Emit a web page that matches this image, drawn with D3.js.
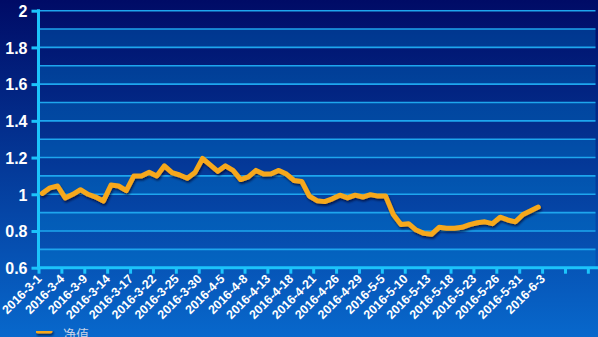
<!DOCTYPE html>
<html>
<head>
<meta charset="utf-8">
<script src="https://cdn.jsdelivr.net/npm/d3@7"></script>
<style>
  html, body { margin: 0; padding: 0; background: #0a3a9a; }
  svg { display: block; }
</style>
</head>
<body>
<svg id="chart" width="598" height="337"></svg>
<script>
// Trading days shown on the category axis
const categories = [
  "2016-3-1","2016-3-2","2016-3-3","2016-3-4","2016-3-7","2016-3-8","2016-3-9","2016-3-10","2016-3-11",
  "2016-3-14","2016-3-15","2016-3-16","2016-3-17","2016-3-18","2016-3-21","2016-3-22","2016-3-23","2016-3-24",
  "2016-3-25","2016-3-28","2016-3-29","2016-3-30","2016-3-31","2016-4-1","2016-4-5","2016-4-6","2016-4-7",
  "2016-4-8","2016-4-11","2016-4-12","2016-4-13","2016-4-14","2016-4-15","2016-4-18","2016-4-19","2016-4-20",
  "2016-4-21","2016-4-22","2016-4-25","2016-4-26","2016-4-27","2016-4-28","2016-4-29","2016-5-3","2016-5-4",
  "2016-5-5","2016-5-6","2016-5-9","2016-5-10","2016-5-11","2016-5-12","2016-5-13","2016-5-16","2016-5-17",
  "2016-5-18","2016-5-19","2016-5-20","2016-5-23","2016-5-24","2016-5-25","2016-5-26","2016-5-27","2016-5-30",
  "2016-5-31","2016-6-1","2016-6-2","2016-6-3"
];

// 净值 (net asset value) per trading day
const navValues = [
  1.005, 1.035, 1.045, 0.980, 1.000, 1.025, 1.000, 0.985, 0.963,
  1.050, 1.045, 1.020, 1.100, 1.100, 1.120, 1.100, 1.155, 1.118,
  1.105, 1.087, 1.118, 1.195, 1.160, 1.125, 1.155, 1.130, 1.080,
  1.095, 1.130, 1.110, 1.112, 1.130, 1.110, 1.075, 1.070, 0.990,
  0.965, 0.960, 0.975, 0.995, 0.980, 0.995, 0.985, 0.998, 0.990,
  0.990, 0.890, 0.835, 0.840, 0.805, 0.787, 0.782, 0.820, 0.815,
  0.815, 0.820, 0.835, 0.845, 0.850, 0.840, 0.875, 0.860, 0.850,
  0.890, 0.910, 0.930
];

const seriesName = "净值";
const yTicks = [0.6, 0.8, 1, 1.2, 1.4, 1.6, 1.8, 2];
const yGrid = [0.6, 0.7, 0.8, 0.9, 1.0, 1.1, 1.2, 1.3, 1.4, 1.5, 1.6, 1.7, 1.8, 1.9, 2.0];
const slotCount = 73;   // category slots on the x axis
const tickEvery = 3;    // a tick and label every 3 trading days

const W = 598, H = 337;
const plot = { left: 38.5, right: 595.5, top: 10.7, bottom: 267.7 };

const svg = d3.select("#chart");
const defs = svg.append("defs");

const bg = defs.append("linearGradient")
  .attr("id", "bg").attr("x1", 0).attr("y1", 0).attr("x2", 0).attr("y2", 1);
bg.append("stop").attr("offset", "0%").attr("stop-color", "#000b66");
bg.append("stop").attr("offset", "100%").attr("stop-color", "#0868cc");

// soft shadow under the series line (user-space region so flat shapes keep it)
const shadow = defs.append("filter").attr("id", "shadow")
  .attr("filterUnits", "userSpaceOnUse")
  .attr("x", 0).attr("y", 0).attr("width", W).attr("height", H);
shadow.append("feDropShadow")
  .attr("dx", 1).attr("dy", 2).attr("stdDeviation", 1.3)
  .attr("flood-color", "#000628").attr("flood-opacity", 0.65);

svg.append("rect").attr("width", W).attr("height", H).attr("fill", "url(#bg)");

const x = d3.scaleLinear().domain([0, slotCount]).range([plot.left, plot.right]);
const y = d3.scaleLinear().domain([0.6, 2]).range([plot.bottom, plot.top]);

// alternating bands, one per 0.1 step
const bandStarts = d3.range(0, 7).map(k => +(0.6 + k * 0.2).toFixed(1));
svg.append("g").selectAll("rect").data(bandStarts).join("rect")
  .attr("x", plot.left).attr("width", plot.right - plot.left)
  .attr("y", d => y(d + 0.1)).attr("height", d => y(d) - y(d + 0.1))
  .attr("fill", "rgba(0,140,220,0.30)");

// horizontal grid lines
svg.append("g").selectAll("line").data(yGrid).join("line")
  .attr("x1", plot.left).attr("x2", plot.right)
  .attr("y1", d => y(d)).attr("y2", d => y(d))
  .attr("stroke", "#1ea6ee").attr("stroke-width", 1.6);

// y axis
const yAxis = svg.append("g")
  .attr("transform", `translate(${plot.left},0)`)
  .call(d3.axisLeft(y).tickValues(yTicks).tickSize(7).tickPadding(4)
    .tickFormat(d => d3.format("")(+d.toFixed(1))));
yAxis.select(".domain").attr("stroke", "#1cc4fb").attr("stroke-width", 3)
  .attr("d", `M0,${plot.top - 1.5}V${plot.bottom + 1.5}`);
yAxis.selectAll(".tick line").attr("stroke", "#1cc4fb").attr("stroke-width", 3);
yAxis.selectAll(".tick text")
  .attr("fill", "#ffffff").attr("font-family", "Liberation Sans, Arial, sans-serif")
  .attr("font-weight", "bold").attr("font-size", 16).attr("dy", "0.36em");

// x axis
const xTickVals = d3.range(0, slotCount + 1, tickEvery);
const xAxis = svg.append("g")
  .attr("transform", `translate(0,${plot.bottom})`)
  .call(d3.axisBottom(x).tickValues(xTickVals).tickSize(6).tickFormat(""));
xAxis.select(".domain").attr("stroke", "#1cc4fb").attr("stroke-width", 3)
  .attr("d", `M${plot.left - 1.5},0H${W}`);
xAxis.selectAll(".tick line").attr("stroke", "#1cc4fb").attr("stroke-width", 3);

// category labels at every third trading day
const labelIdx = d3.range(0, categories.length, tickEvery);
svg.append("g").selectAll("text").data(labelIdx).join("text")
  .attr("transform", i => `translate(${x(i + 0.5)},${plot.bottom + 12}) rotate(-45)`)
  .attr("text-anchor", "end")
  .attr("fill", "#ffffff").attr("font-family", "Liberation Sans, Arial, sans-serif")
  .attr("font-weight", "bold").attr("font-size", 12.4)
  .text(i => categories[i]);

// net value line
const line = d3.line().x((d, i) => x(i + 0.5)).y(d => y(d));
svg.append("path").datum(navValues)
  .attr("d", line)
  .attr("fill", "none").attr("stroke", "#f6a81a").attr("stroke-width", 5)
  .attr("stroke-linejoin", "round").attr("stroke-linecap", "round")
  .attr("filter", "url(#shadow)");

// legend
const legend = svg.append("g").attr("transform", "translate(36,331)");
legend.append("line").attr("x1", 2).attr("x2", 14).attr("y1", 0).attr("y2", 0)
  .attr("stroke", "#f6a81a").attr("stroke-width", 5).attr("stroke-linecap", "round")
  .attr("filter", "url(#shadow)");
legend.append("text").attr("x", 27).attr("y", 7.5)
  .attr("fill", "#c9d3e6").attr("font-family", "Noto Sans CJK SC, sans-serif")
  .attr("font-size", 13).text(seriesName);
</script>
</body>
</html>
